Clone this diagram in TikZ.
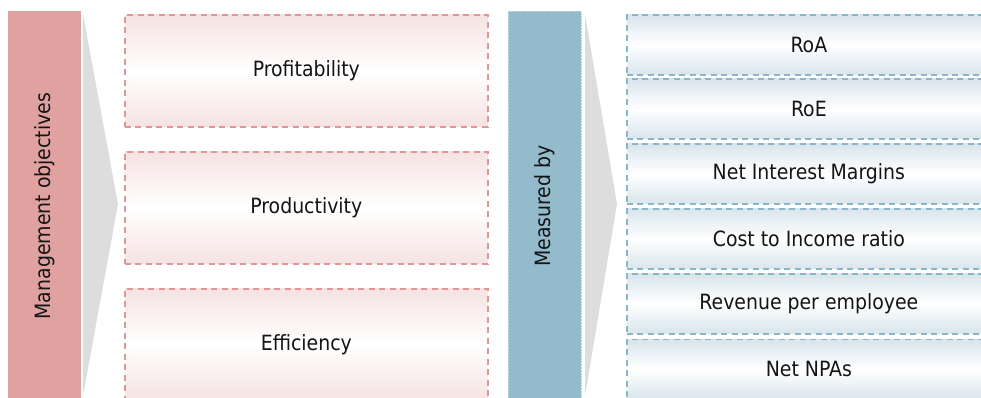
\documentclass[tikz,border=0pt]{standalone}
\usepackage{fontspec}
\setmainfont{DejaVu Sans Condensed}
\begin{document}
\definecolor{rosebar}{RGB}{224,161,161}
\definecolor{rosetint}{RGB}{246,226,226}
\definecolor{roseedge}{RGB}{222,150,150}
\definecolor{tealbar}{RGB}{147,187,203}
\definecolor{tealtint}{RGB}{216,229,236}
\definecolor{tealedge}{RGB}{138,182,200}
\definecolor{chevron}{RGB}{221,221,221}
\begin{tikzpicture}[x=1pt,y=-1pt,
  every node/.style={font=\fontsize{21}{25}\selectfont, text=black!92},
  sidebar/.style={rotate=90, minimum width=390pt, minimum height=73pt, inner sep=0pt},
  objbox/.style={draw=roseedge, line width=1.7pt, dash pattern=on 6pt off 4.5pt,
    top color=rosetint, bottom color=rosetint, middle color=white,
    minimum width=363pt, minimum height=112pt, inner sep=0pt, anchor=north west},
  kpibox/.style={draw=tealedge, line width=1.7pt, dash pattern=on 6pt off 4.5pt,
    top color=tealtint, bottom color=tealtint, middle color=white,
    minimum width=364pt, minimum height=60pt, inner sep=0pt, anchor=north west}]
\useasboundingbox (0,0) rectangle (981,398);
\clip (0,0) rectangle (981,398);

% left side: objectives
\node[sidebar, fill=rosebar] (mgmt) at (44.5,206) {Management objectives};
\fill[chevron] (83,14) -- (118,204) -- (83,396) -- cycle;
\node[objbox] (profit) at (124,14) {Profitability};
\node[objbox] (product) at (124,151) {Productivity};
\node[objbox] (effic) at (124,288) {Efficiency};

% right side: measures
\node[sidebar, fill=tealbar, draw=tealbar!60!white, dash pattern=on 2pt off 1pt, line width=0.6pt] (meas) at (544.5,206) {Measured by};
\fill[chevron] (585,14) -- (617,204) -- (585,396) -- cycle;
\node[kpibox] (roa) at (626,14) {RoA};
\node[kpibox] (roe) at (626,78) {RoE};
\node[kpibox] (nim) at (626,143) {Net Interest Margins};
\node[kpibox] (cir) at (626,208) {Cost to Income ratio};
\node[kpibox] (rpe) at (626,273) {Revenue per employee};
\node[kpibox] (npa) at (626,338.5) {Net NPAs};
\end{tikzpicture}
\end{document}
